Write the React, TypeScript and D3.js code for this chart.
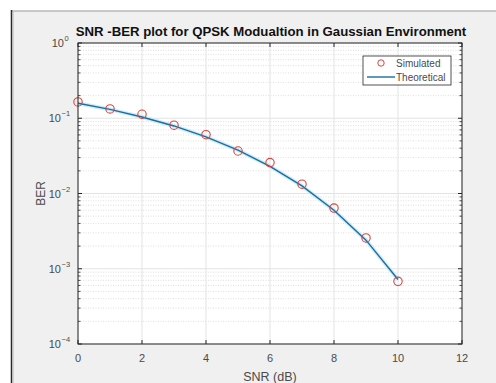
import React from "react";
import * as d3 from "d3";

const snrDb = [0, 1, 2, 3, 4, 5, 6, 7, 8, 9, 10];
const simulatedBer = [0.165, 0.133, 0.113, 0.081, 0.0605, 0.0367, 0.0258, 0.0133, 0.0064, 0.00257, 0.00068];
const theoreticalBer = [0.158, 0.131, 0.104, 0.079, 0.0565, 0.0377, 0.023, 0.0126, 0.006, 0.0024, 0.00072];
const xTicks = [0, 2, 4, 6, 8, 10, 12];
const yDecades = [0, -1, -2, -3, -4];
const titleText = "SNR -BER plot for QPSK Modualtion in Gaussian Environment";
const xLabel = "SNR (dB)";
const yLabel = "BER";
const legendLabels = ["Simulated", "Theoretical"];

const W = 496;
const H = 383;
const plot = { left: 78, right: 462, top: 43, bottom: 344 };

export default function App() {
  const x = d3.scaleLinear().domain([0, 12]).range([plot.left, plot.right]);
  const y = d3.scaleLog().domain([1e-4, 1]).range([plot.bottom, plot.top]);

  const minorVals: number[] = [];
  yDecades.slice(1).forEach((d) => {
    for (let m = 2; m <= 9; m++) minorVals.push(m * Math.pow(10, d));
  });

  const line = d3
    .line<number>()
    .x((_, i) => x(snrDb[i]))
    .y((v) => y(v));
  const path = line(theoreticalBer) || "";

  const font = "'Liberation Sans', Arial, Helvetica, sans-serif";
  const axisColor = "#262626";
  const textColor = "#4a4a4a";

  const lx = 363, ly = 56, lw = 88, lh = 29;

  return (
    <svg width={W} height={H} style={{ position: "absolute", left: 0, top: 0 }} fontFamily={font}>
      <rect x={0} y={0} width={W} height={H} fill="#ffffff" />
      <rect x={12} y={11} width={W - 12} height={H - 11} fill="#f0f0f0" />
      <line x1={12} x2={W} y1={11} y2={11} stroke="#9a9a9a" strokeWidth={1.2} />
      <line x1={11.5} x2={11.5} y1={10} y2={H} stroke="#2a2a2a" strokeWidth={1.5} />
      <line x1={13} x2={13} y1={12} y2={H} stroke="#b8b8b8" strokeWidth={1} />

      <rect x={plot.left} y={plot.top} width={plot.right - plot.left} height={plot.bottom - plot.top} fill="#ffffff" />

      {/* minor y grid */}
      {minorVals.map((v, i) => (
        <line key={"mg" + i} x1={plot.left} x2={plot.right} y1={y(v)} y2={y(v)} stroke="#d8d8d8" strokeWidth={0.8} strokeDasharray="1,1.5" />
      ))}
      {/* major grids */}
      {yDecades.map((d) => (
        <line key={"yg" + d} x1={plot.left} x2={plot.right} y1={y(Math.pow(10, d))} y2={y(Math.pow(10, d))} stroke="#e3e3e3" strokeWidth={1} />
      ))}
      {xTicks.map((t) => (
        <line key={"xg" + t} x1={x(t)} x2={x(t)} y1={plot.top} y2={plot.bottom} stroke="#e3e3e3" strokeWidth={1} />
      ))}

      {/* theoretical line */}
      <path d={path} fill="none" stroke="#bfe4f5" strokeWidth={4} strokeOpacity={0.7} />
      <path d={path} fill="none" stroke="#1a6fa0" strokeWidth={1.4} />

      {/* simulated markers */}
      {simulatedBer.map((v, i) => (
        <circle key={"m" + i} cx={x(snrDb[i])} cy={y(v)} r={4.2} fill="none" stroke="#d9443c" strokeWidth={1.1} />
      ))}

      {/* axes box */}
      <rect x={plot.left} y={plot.top} width={plot.right - plot.left} height={plot.bottom - plot.top} fill="none" stroke={axisColor} strokeWidth={1} />

      {/* x ticks */}
      {xTicks.map((t) => (
        <g key={"xt" + t}>
          <line x1={x(t)} x2={x(t)} y1={plot.bottom} y2={plot.bottom - 4} stroke={axisColor} />
          <line x1={x(t)} x2={x(t)} y1={plot.top} y2={plot.top + 4} stroke={axisColor} />
          <text x={x(t)} y={362} textAnchor="middle" fontSize={11} fill={textColor}>{t}</text>
        </g>
      ))}

      {/* y ticks */}
      {yDecades.map((d) => (
        <g key={"yt" + d}>
          <line x1={plot.left} x2={plot.left + 4} y1={y(Math.pow(10, d))} y2={y(Math.pow(10, d))} stroke={axisColor} />
          <line x1={plot.right} x2={plot.right - 4} y1={y(Math.pow(10, d))} y2={y(Math.pow(10, d))} stroke={axisColor} />
          <text x={d === 0 ? 64 : 61} y={y(Math.pow(10, d)) + 4} textAnchor="end" fontSize={11} fill={textColor}>10</text>
          <text x={d === 0 ? 64.5 : 61.5} y={y(Math.pow(10, d)) - 2} textAnchor="start" fontSize={7.5} fill={textColor}>{String(d).replace("-", "\u2212")}</text>
        </g>
      ))}
      {minorVals.map((v, i) => (
        <g key={"ymt" + i}>
          <line x1={plot.left} x2={plot.left + 2.5} y1={y(v)} y2={y(v)} stroke={axisColor} strokeWidth={0.8} />
          <line x1={plot.right} x2={plot.right - 2.5} y1={y(v)} y2={y(v)} stroke={axisColor} strokeWidth={0.8} />
        </g>
      ))}

      {/* title */}
      <text x={(plot.left + plot.right) / 2 + 1} y={36} textAnchor="middle" fontSize={13.2} fontWeight="bold" fill="#111">{titleText}</text>
      {/* axis labels */}
      <text x={(plot.left + plot.right) / 2} y={381} textAnchor="middle" fontSize={12.5} fill={textColor}>{xLabel}</text>
      <text transform={`translate(45,${(plot.top + plot.bottom) / 2}) rotate(-90)`} textAnchor="middle" fontSize={12} fill={textColor}>{yLabel}</text>

      {/* legend */}
      <rect x={lx} y={ly} width={lw} height={lh} fill="#ffffff" stroke={axisColor} strokeWidth={0.8} />
      <circle cx={381} cy={63} r={3.2} fill="none" stroke="#d9443c" strokeWidth={1} />
      <text x={396} y={66.5} fontSize={10} fill={textColor}>{legendLabels[0]}</text>
      <line x1={367} x2={395} y1={77} y2={77} stroke="#1a6fa0" strokeWidth={1.4} />
      <text x={396} y={80.5} fontSize={10} fill={textColor}>{legendLabels[1]}</text>
    </svg>
  );
}
